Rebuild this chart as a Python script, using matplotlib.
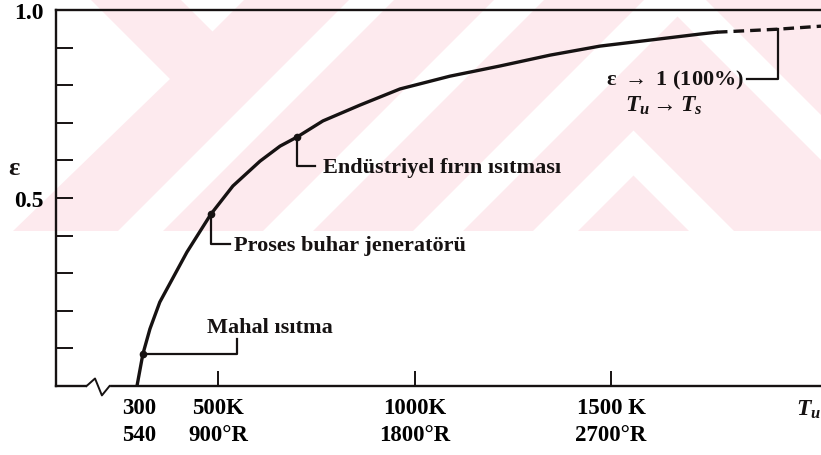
import numpy as np
import matplotlib
matplotlib.use("Agg")
import matplotlib.pyplot as plt
from matplotlib.patches import Polygon, Rectangle

plt.rcParams['font.family'] = ['Liberation Serif', 'DejaVu Serif']
plt.rcParams['font.weight'] = 'bold'
plt.rcParams['mathtext.fontset'] = 'custom'
plt.rcParams['mathtext.rm'] = 'Liberation Serif:bold'
plt.rcParams['mathtext.it'] = 'Liberation Serif:italic:bold'
plt.rcParams['mathtext.bf'] = 'Liberation Serif:bold'

INK = '#161212'
PINK = '#fdeaee'

# curve: T_u (K) vs epsilon
T_solid = [294, 309, 327, 352, 421, 482, 538, 607, 658, 701, 767, 861, 963,
           1090, 1217, 1345, 1472, 1599, 1726, 1769]
eps_solid = [0.0, 0.085, 0.152, 0.223, 0.356, 0.457, 0.532, 0.598, 0.638, 0.662,
             0.705, 0.747, 0.790, 0.824, 0.851, 0.880, 0.904, 0.920, 0.936, 0.941]
T_dash = [1769, 1925, 2034]
eps_dash = [0.941, 0.949, 0.957]

# marked applications
app_T = [309, 482, 701]
app_eps = [0.085, 0.457, 0.662]
app_names = ['Mahal ısıtma', 'Proses buhar jeneratörü', 'Endüstriyel fırın ısıtması']

x_ticks = [300, 500, 1000, 1500]
x_ticklabels = ['300\n540', '500K\n900°R', '1000K\n1800°R', '1500 K\n2700°R']
y_ticks = [0.1, 0.2, 0.3, 0.4, 0.5, 0.6, 0.7, 0.8, 0.9, 1.0]
y_ticklabels = ['', '', '', '', '0.5', '', '', '', '', '1.0']

# watermark shapes in picture pixels (x right, y down)
wm_band = (0, 0, 821, 232)
wm_white = [
    [(0, 0), (90, 0), (170, 80), (13, 232), (0, 232)],
    [(180, 0), (245, 0), (212.5, 32.5)],
    [(350, 0), (395, 0), (163, 232), (118, 232)],
    [(495, 0), (545, 0), (313, 232), (263, 232)],
    [(645, 0), (695, 0), (463, 232), (413, 232)],
    [(533, 232), (633.5, 131.5), (734, 232), (689, 232), (633.5, 176.5), (578, 232)],
    [(660, 0), (705, 0), (821, 116), (821, 161)],
]

fig = plt.figure(figsize=(8.21, 4.56), dpi=100)
fig.patch.set_facecolor('white')

bg = fig.add_axes([0, 0, 1, 1], zorder=-1)
bg.set_xlim(0, 821)
bg.set_ylim(456, 0)
bg.axis('off')
bg.add_patch(Rectangle((wm_band[0], wm_band[1]), wm_band[2], wm_band[3],
                       facecolor=PINK, edgecolor='none'))
for pts in wm_white:
    bg.add_patch(Polygon(pts, closed=True, facecolor='white', edgecolor='none'))

ax = fig.add_axes([56 / 821, 69 / 456, 765 / 821, 376 / 456])
ax.set_facecolor('none')
ax.set_xlim(88, 2034)
ax.set_ylim(0, 1.0)

for s in ['left', 'bottom', 'top']:
    ax.spines[s].set_linewidth(1.7)
    ax.spines[s].set_color(INK)
ax.spines['right'].set_visible(False)

ax.plot(T_solid, eps_solid, color=INK, lw=2.4, solid_capstyle='round', zorder=3)
ax.plot(T_dash, eps_dash, color=INK, lw=2.4, ls=(0, (3.2, 1.8)), clip_on=False, zorder=3)
ax.plot(app_T, app_eps, 'o', color=INK, ms=4.5, zorder=4)

ax.set_xticks(x_ticks, x_ticklabels, fontsize=16.5, fontweight='bold', linespacing=1.35)
ax.tick_params(axis='x', direction='in', length=11, width=1.4, color=INK, pad=8)
ax.xaxis.get_major_ticks()[0].tick1line.set_visible(False)
ax.set_yticks(y_ticks, y_ticklabels, fontsize=17, fontweight='bold')
ax.tick_params(axis='y', direction='in', length=12, width=1.4, color=INK, pad=9)

ax.text(-0.055, 0.582, 'ε', transform=ax.get_yaxis_transform(), fontsize=19,
        fontweight='bold', ha='center', va='center', color=INK)
ax.text(0.967, -0.06, '$T_u$', transform=ax.transAxes, fontsize=17,
        ha='left', va='center', color=INK, clip_on=False)

# axis break on the T axis
ax.plot([0.043, 0.068], [0, 0], transform=ax.transAxes, color='white', lw=3,
        clip_on=False, zorder=5)
ax.plot([0.040, 0.051, 0.060, 0.070], [0, 0.02, -0.025, 0], transform=ax.transAxes,
        color=INK, lw=1.4, clip_on=False, zorder=6)

lead = dict(color=INK, lw=1.6, zorder=2)
txt = dict(fontsize=16, fontweight='bold', color=INK, va='center')

# Mahal isitma
ax.plot([app_T[0], 548, 548], [app_eps[0], app_eps[0], 0.125], **lead)
ax.text(473, 0.157, app_names[0], ha='left', **txt)
# Proses buhar jeneratoru
ax.plot([app_T[1], app_T[1], 531], [app_eps[1], 0.377, 0.377], **lead)
ax.text(541, 0.375, app_names[1], ha='left', **txt)
# Endustriyel firin isitmasi
ax.plot([app_T[2], app_T[2], 747], [app_eps[2], 0.585, 0.585], **lead)
ax.text(767, 0.582, app_names[2], ha='left', **txt)
# limit
ax.plot([T_dash[1], T_dash[1], 1846], [eps_dash[1], 0.816, 0.816], **lead)
ax.text(1838, 0.816, r'ε $\rightarrow$ 1 (100%)', ha='right', **txt)
ax.text(1635, 0.748, r'$T_u \rightarrow T_s$', ha='center', fontsize=17, color=INK, va='center')

fig.savefig('out.png', dpi=100, facecolor='white')
